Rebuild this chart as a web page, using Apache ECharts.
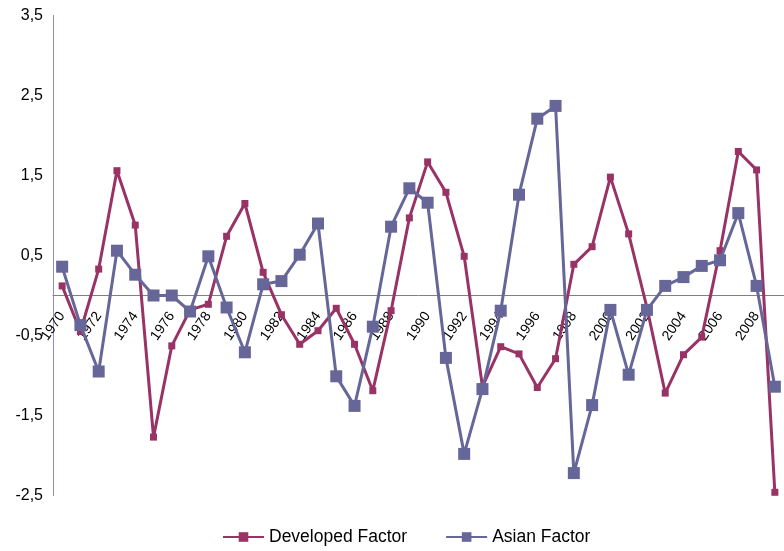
<!DOCTYPE html>
<html>
<head>
<meta charset="utf-8">
<script src="https://cdn.jsdelivr.net/npm/echarts@6/dist/echarts.min.js"></script>
<style>
html,body{margin:0;padding:0;background:#fff;}
#chart{width:784px;height:551px;}
</style>
</head>
<body>
<div id="chart"></div>
<script>
const years = [];
for (let y = 1970; y <= 2009; y++) years.push(String(y));

const developedFactor = [0.12, -0.45, 0.33, 1.56, 0.88, -1.77, -0.63, -0.18, -0.11, 0.74,
  1.15, 0.29, -0.24, -0.61, -0.44, -0.16, -0.61, -1.19, -0.19, 0.97,
  1.67, 1.29, 0.49, -1.14, -0.64, -0.73, -1.15, -0.79, 0.39, 0.61,
  1.48, 0.77, -0.15, -1.22, -0.74, -0.52, 0.56, 1.80, 1.57, -2.46];

const asianFactor = [0.36, -0.37, -0.95, 0.56, 0.26, 0.0, 0.0, -0.2, 0.49, -0.15,
  -0.71, 0.14, 0.18, 0.51, 0.90, -1.01, -1.38, -0.39, 0.86, 1.34,
  1.16, -0.78, -1.98, -1.17, -0.19, 1.26, 2.21, 2.37, -2.22, -1.37,
  -0.18, -0.99, -0.18, 0.12, 0.23, 0.37, 0.44, 1.03, 0.12, -1.14];

const seriesNames = ['Developed Factor', 'Asian Factor'];
const FONT = '"Liberation Sans", Arial, sans-serif';

const chart = echarts.init(document.getElementById('chart'), null, {renderer: 'canvas'});
chart.setOption({
  animation: false,
  backgroundColor: '#ffffff',
  textStyle: {fontFamily: FONT},
  grid: {left: 53, top: 15.5, width: 738, height: 480, containLabel: false},
  legend: {
    data: seriesNames,
    left: 222,
    top: 528,
    padding: 0,
    itemWidth: 41,
    itemHeight: 12,
    itemGap: 38,
    textStyle: {fontFamily: FONT, fontSize: 17.5, color: '#000'}
  },
  xAxis: {
    type: 'category',
    data: years,
    boundaryGap: true,
    axisLine: {onZero: true, lineStyle: {color: '#808080', width: 1}},
    axisTick: {show: false},
    axisLabel: {
      interval: 1,
      rotate: 55,
      margin: -182,
      fontSize: 14,
      color: '#000',
      fontFamily: FONT
    },
    splitLine: {show: false}
  },
  yAxis: {
    type: 'value',
    min: -2.5,
    max: 3.5,
    interval: 1,
    axisLine: {show: true, lineStyle: {color: '#8c8cc8', width: 1}},
    axisTick: {show: false},
    splitLine: {show: false},
    axisLabel: {
      margin: 10,
      fontSize: 16,
      color: '#000',
      fontFamily: FONT,
      formatter: v => v.toFixed(1).replace('.', ',')
    }
  },
  series: [
    {
      name: seriesNames[0],
      type: 'line',
      data: developedFactor,
      symbol: 'rect',
      symbolSize: 7,
      lineStyle: {color: '#993366', width: 3},
      itemStyle: {color: '#993366'},
      z: 2
    },
    {
      name: seriesNames[1],
      type: 'line',
      data: asianFactor,
      symbol: 'rect',
      symbolSize: 12,
      lineStyle: {color: '#666699', width: 3},
      itemStyle: {color: '#666699'},
      z: 3
    }
  ]
});
</script>
</body>
</html>
